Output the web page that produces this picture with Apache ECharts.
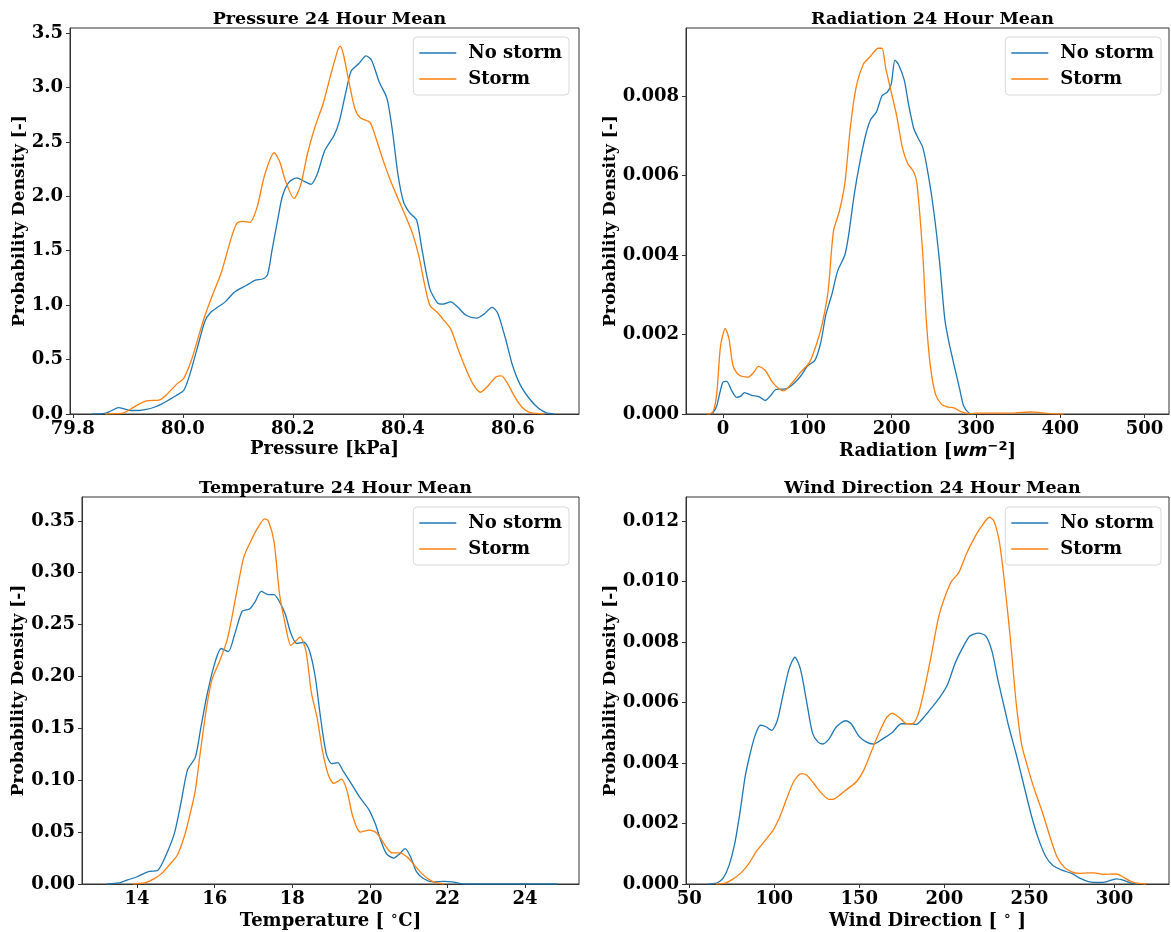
<!DOCTYPE html>
<html>
<head>
<meta charset="utf-8">
<script src="https://cdn.jsdelivr.net/npm/echarts@6/dist/echarts.min.js"></script>
<style>
  html, body { margin: 0; padding: 0; background: #fff; }
  #chart { width: 1171px; height: 932px; }
</style>
</head>
<body>
<div id="chart"></div>
<script>
// Kernel density estimates of 24-hour means, storm vs. no-storm days.
// Each series is a list of [value, density] pairs.

const seriesNames = ['No storm', 'Storm'];

// --- Pressure [kPa]
const pressureTicks = [79.8, 80.0, 80.2, 80.4, 80.6];
const pressureDensityTicks = [0, 0.5, 1.0, 1.5, 2.0, 2.5, 3.0, 3.5];
const pressureNoStorm = [
  [79.835,0],[79.858,0.005],[79.870,0.03],[79.883,0.058],[79.895,0.045],[79.906,0.032],[79.920,0.032],
  [79.934,0.042],[79.948,0.062],[79.961,0.09],[79.975,0.13],[79.988,0.17],[80.002,0.22],[80.012,0.35],
  [80.026,0.6],[80.040,0.85],[80.050,0.93],[80.063,0.98],[80.077,1.03],[80.094,1.12],[80.115,1.18],
  [80.132,1.23],[80.145,1.24],[80.154,1.28],[80.162,1.5],[80.173,1.8],[80.181,2.0],[80.193,2.13],
  [80.207,2.17],[80.220,2.14],[80.233,2.11],[80.244,2.2],[80.258,2.42],[80.275,2.56],[80.285,2.7],
  [80.296,2.95],[80.306,3.15],[80.320,3.22],[80.333,3.29],[80.343,3.25],[80.357,3.05],[80.371,2.9],
  [80.381,2.6],[80.391,2.2],[80.401,1.95],[80.412,1.85],[80.425,1.78],[80.435,1.5],[80.449,1.15],
  [80.463,1.02],[80.473,1.01],[80.487,1.03],[80.500,0.98],[80.514,0.91],[80.534,0.88],[80.548,0.92],
  [80.562,0.98],[80.572,0.93],[80.586,0.7],[80.599,0.45],[80.613,0.27],[80.630,0.14],[80.647,0.05],
  [80.661,0.01],[80.674,0]
];
const pressureStorm = [
  [79.859,0],[79.880,0.003],[79.893,0.01],[79.913,0.07],[79.934,0.12],[79.958,0.13],[79.971,0.18],
  [79.988,0.27],[80.002,0.33],[80.016,0.5],[80.029,0.72],[80.040,0.9],[80.053,1.08],[80.070,1.3],
  [80.087,1.6],[80.098,1.75],[80.108,1.77],[80.122,1.76],[80.135,1.9],[80.149,2.2],[80.166,2.4],
  [80.176,2.32],[80.186,2.15],[80.202,1.98],[80.214,2.1],[80.227,2.4],[80.241,2.65],[80.255,2.85],
  [80.268,3.1],[80.282,3.35],[80.286,3.38],[80.292,3.3],[80.302,3.05],[80.313,2.8],[80.323,2.72],
  [80.340,2.68],[80.350,2.55],[80.364,2.33],[80.377,2.15],[80.391,1.98],[80.408,1.78],[80.418,1.65],
  [80.429,1.45],[80.439,1.2],[80.449,1.0],[80.463,0.93],[80.473,0.87],[80.487,0.78],[80.500,0.6],
  [80.514,0.42],[80.528,0.27],[80.541,0.2],[80.555,0.26],[80.569,0.34],[80.579,0.35],[80.589,0.29],
  [80.603,0.16],[80.617,0.06],[80.630,0.015],[80.657,0]
];

// --- Radiation [W m^-2]
const radiationTicks = [0, 100, 200, 300, 400, 500];
const radiationDensityTicks = [0, 0.002, 0.004, 0.006, 0.008];
const radiationNoStorm = [
  [-16,0],[-12,0.00003],[-7.5,0.0002],[-3,0.0006],[0,0.0008],[4.4,0.00082],[10,0.0006],[16,0.00042],
  [21,0.00045],[25.5,0.00054],[34,0.00047],[43,0.00043],[50,0.00034],[56,0.00045],[63,0.00062],
  [74,0.00063],[83,0.00075],[92,0.00095],[100,0.0012],[109,0.00135],[116,0.0018],[122,0.0025],
  [129,0.0030],[136,0.0036],[144.5,0.0040],[149,0.0045],[155.5,0.0055],[162,0.0063],[169,0.0070],
  [175,0.0074],[182,0.0076],[188.5,0.0080],[195,0.0081],[199.5,0.0083],[204,0.0089],[208,0.0088],
  [215,0.0084],[220,0.0078],[226,0.0072],[230,0.0070],[237,0.0067],[243.6,0.0060],[250,0.0051],
  [257,0.0038],[263,0.0024],[268,0.0018],[274.4,0.0012],[281,0.0006],[285.5,0.0002],[292,0.00002],
  [298.7,0]
];
const radiationStorm = [
  [-19,0],[-12,0.00005],[-7.5,0.0005],[-3,0.0017],[2.6,0.00215],[7,0.0019],[12,0.0012],[19,0.00098],
  [30,0.00093],[36.5,0.00105],[42,0.0012],[50,0.0011],[58.6,0.0008],[67,0.00062],[72,0.00058],
  [80.6,0.00075],[92,0.00105],[102.6,0.0013],[111.5,0.0018],[118,0.0023],[124.7,0.0031],[131,0.0046],
  [138,0.0051],[144.5,0.0058],[151,0.0072],[157.7,0.0082],[166.5,0.0088],[175,0.0090],[184,0.0092],
  [188.5,0.0092],[193,0.0087],[199.5,0.0081],[206,0.0075],[212.8,0.0067],[219,0.0063],[226,0.0061],
  [230,0.0058],[237,0.0040],[241,0.0024],[246,0.0012],[252,0.0005],[259,0.00025],[265.6,0.00018],
  [274.4,0.00015],[281,0.00007],[290,0.00001],[303,0.00002],[347,0.00003],[365,0.00005],
  [373.6,0.00004],[387,0.00001],[404,0]
];

// --- Temperature [deg C]
const temperatureTicks = [14, 16, 18, 20, 22, 24];
const temperatureDensityTicks = [0, 0.05, 0.10, 0.15, 0.20, 0.25, 0.30, 0.35];
const temperatureNoStorm = [
  [13.23,0],[13.52,0.001],[13.76,0.004],[14.0,0.007],[14.29,0.012],[14.53,0.013],[14.77,0.03],
  [14.97,0.05],[15.14,0.08],[15.30,0.11],[15.50,0.122],[15.64,0.15],[15.79,0.18],[15.98,0.21],
  [16.17,0.227],[16.35,0.224],[16.51,0.24],[16.71,0.263],[16.90,0.265],[17.04,0.272],[17.20,0.282],
  [17.38,0.279],[17.53,0.279],[17.67,0.272],[17.82,0.26],[17.96,0.242],[18.11,0.232],[18.30,0.233],
  [18.44,0.225],[18.59,0.2],[18.73,0.16],[18.88,0.125],[19.02,0.116],[19.17,0.117],[19.31,0.109],
  [19.50,0.098],[19.75,0.083],[19.97,0.072],[20.14,0.058],[20.28,0.042],[20.43,0.029],[20.62,0.025],
  [20.76,0.029],[20.91,0.034],[21.05,0.026],[21.20,0.012],[21.39,0.005],[21.63,0.002],[21.92,0.0025],
  [22.12,0.002],[22.36,0.0003],[22.70,0],[24.82,0]
];
const temperatureStorm = [
  [13.90,0],[14.19,0.001],[14.43,0.005],[14.63,0.01],[14.82,0.018],[15.04,0.028],[15.21,0.045],
  [15.35,0.065],[15.50,0.09],[15.64,0.13],[15.79,0.17],[15.93,0.197],[16.13,0.215],[16.32,0.235],
  [16.46,0.26],[16.61,0.29],[16.75,0.315],[16.90,0.328],[17.09,0.342],[17.29,0.352],[17.38,0.35],
  [17.53,0.33],[17.67,0.28],[17.82,0.25],[17.96,0.23],[18.06,0.233],[18.20,0.238],[18.35,0.225],
  [18.49,0.185],[18.64,0.16],[18.78,0.128],[18.93,0.105],[19.07,0.097],[19.27,0.101],[19.41,0.09],
  [19.56,0.065],[19.75,0.05],[19.99,0.052],[20.18,0.049],[20.38,0.038],[20.57,0.03],[20.76,0.03],
  [20.96,0.026],[21.15,0.018],[21.34,0.01],[21.54,0.004],[21.73,0.001],[21.92,0]
];

// --- Wind direction [deg]
const windTicks = [50, 100, 150, 200, 250, 300];
const windDensityTicks = [0, 0.002, 0.004, 0.006, 0.008, 0.010, 0.012];
const windNoStorm = [
  [61.3,0],[66.8,0.00005],[70,0.0002],[73.3,0.0006],[76.6,0.0013],[79.9,0.0024],[82.7,0.0035],
  [85.3,0.0042],[88.6,0.0049],[91.8,0.00525],[95.1,0.0052],[98.4,0.00508],[101.7,0.0054],
  [104.9,0.0062],[108.6,0.0071],[112.1,0.0075],[115.4,0.0071],[119.1,0.0060],[122.4,0.0050],
  [125.6,0.0047],[128.5,0.00463],[132.2,0.0048],[136.5,0.0052],[142,0.0054],[145.2,0.0053],
  [149.6,0.0049],[154,0.0047],[158.3,0.00463],[163.8,0.0048],[169.2,0.005],[174.7,0.0053],
  [179,0.0053],[183.4,0.00528],[187.7,0.0055],[192.1,0.0058],[197.6,0.0062],[201.9,0.0066],
  [206.3,0.0073],[210.6,0.0078],[215,0.0082],[220,0.0083],[224.4,0.0082],[228,0.0077],[231.3,0.0068],
  [234.6,0.006],[237.9,0.0052],[242.2,0.0043],[246.6,0.0033],[251,0.0023],[255.3,0.0015],
  [259.7,0.0009],[264,0.0006],[269.5,0.00045],[274.9,0.00035],[279.3,0.0002],[284.7,0.00008],
  [291.2,0.00005],[295.6,0.00008],[301.1,0.00017],[305.5,0.00012],[309.8,0.00003],[314.2,0]
];
const windStorm = [
  [65.7,0],[71.1,0.00003],[76.6,0.0002],[81,0.0004],[85.3,0.0007],[89.7,0.0011],[94,0.0014],
  [99.5,0.0018],[103.8,0.0023],[107.1,0.0028],[111.5,0.0034],[115.8,0.00365],[119.1,0.0036],
  [123.5,0.0033],[127.8,0.0030],[132.2,0.0028],[134.3,0.0028],[137.6,0.0029],[142,0.0031],
  [148.5,0.0034],[152.9,0.0038],[157.2,0.0044],[161.6,0.0050],[166,0.0055],[169.2,0.00565],
  [173.6,0.0055],[177.9,0.0053],[181.2,0.0053],[184.5,0.0056],[187.7,0.0063],[192.1,0.0075],
  [196.5,0.0088],[199.7,0.0094],[204.1,0.0100],[208.5,0.0103],[212.8,0.0109],[217.2,0.0114],
  [221.5,0.0118],[226.5,0.01213],[229.2,0.0120],[232.4,0.0113],[235.7,0.0098],[239,0.0080],
  [242.2,0.0060],[245.5,0.0046],[248.8,0.0039],[253.1,0.0031],[257.5,0.0024],[261.9,0.0016],
  [266.2,0.0009],[270.6,0.00055],[274.9,0.0004],[279.3,0.00035],[284.7,0.00037],[288,0.00037],
  [293.4,0.00032],[301.1,0.00033],[305.5,0.00022],[309.8,0.00008],[314.2,0.00002],[318.5,0]
];

const COLORS = ['#1f77b4', '#ff7f0e'];
const FONT = "'DejaVu Serif', serif";
const INK = '#000';
const SPINE = '#333';
const FS = 18;

// one panel per grid: [left, top, width, height]
const panels = [
  { title: 'Pressure 24 Hour Mean', grid: [70, 28, 509, 386],
    x: { min: 79.795, max: 80.72, ticks: pressureTicks, digits: 1,
         name: 'Pressure [kPa]' },
    y: { max: 3.546, ticks: pressureDensityTicks, digits: 1, gap: 37 },
    data: [pressureNoStorm, pressureStorm], legendRight: 602, legendTop: 37 },
  { title: 'Radiation 24 Hour Mean', grid: [686, 28, 483, 386],
    x: { min: -43.9, max: 529, ticks: radiationTicks, digits: 0,
         name: '{a|Radiation [}{i|wm}{s|−2}{a|]}' },
    y: { max: 0.00971, ticks: radiationDensityTicks, digits: 3, gap: 61 },
    data: [radiationNoStorm, radiationStorm], legendRight: 10, legendTop: 37 },
  { title: 'Temperature 24 Hour Mean', grid: [82, 497, 497, 387],
    x: { min: 12.58, max: 25.39, ticks: temperatureTicks, digits: 0,
         name: '{a|Temperature [ }{s|∘}{a|C]}' },
    y: { max: 0.373, ticks: temperatureDensityTicks, digits: 2, gap: 49 },
    data: [temperatureNoStorm, temperatureStorm], legendRight: 602, legendTop: 507 },
  { title: 'Wind Direction 24 Hour Mean', grid: [686, 497, 483, 387],
    x: { min: 48.06, max: 332.1, ticks: windTicks, digits: 0,
         name: '{a|Wind Direction [ }{s|∘}{a| ]}' },
    y: { max: 0.0128, ticks: windDensityTicks, digits: 3, gap: 61 },
    data: [windNoStorm, windStorm], legendRight: 10, legendTop: 507 }
];

const nameRich = {
  a: { fontFamily: FONT, fontWeight: 'bold', fontSize: FS, color: INK },
  i: { fontFamily: "'DejaVu Sans', sans-serif", fontStyle: 'italic', fontWeight: 'bold', fontSize: FS, color: INK },
  s: { fontFamily: "'DejaVu Sans', sans-serif", fontWeight: 'bold', fontSize: 13, color: INK, padding: [0, 0, 9, 0] }
};

const option = {
  animation: false,
  backgroundColor: '#fff',
  title: [], grid: [], xAxis: [], yAxis: [], legend: [], series: []
};

panels.forEach((p, k) => {
  const [l, t, w, h] = p.grid;
  option.grid.push({ left: l, top: t, width: w, height: h, show: true,
    borderColor: SPINE, borderWidth: 1, backgroundColor: 'transparent', containLabel: false });
  option.title.push({ text: p.title, left: l + w / 2, top: t - 23, textAlign: 'center',
    textStyle: { fontFamily: FONT, fontWeight: 'bold', fontSize: 17.5, color: INK } });
  option.xAxis.push({
    type: 'value', gridIndex: k, min: p.x.min, max: p.x.max,
    name: p.x.name, nameLocation: 'middle', nameGap: 26,
    nameTextStyle: { fontFamily: FONT, fontWeight: 'bold', fontSize: FS, color: INK, rich: nameRich },
    axisLine: { show: true, onZero: false, lineStyle: { color: SPINE, width: 1 } },
    axisTick: { show: true, length: 4, lineStyle: { color: SPINE }, customValues: p.x.ticks },
    axisLabel: { margin: 6, fontFamily: FONT, fontWeight: 'bold', fontSize: FS, color: INK,
      customValues: p.x.ticks, formatter: v => v.toFixed(p.x.digits) },
    splitLine: { show: false }
  });
  option.yAxis.push({
    type: 'value', gridIndex: k, min: 0, max: p.y.max,
    name: 'Probability Density [-]', nameLocation: 'middle', nameGap: p.y.gap,
    nameTextStyle: { fontFamily: FONT, fontWeight: 'bold', fontSize: 17, color: INK },
    axisLine: { show: true, onZero: false, lineStyle: { color: SPINE, width: 1 } },
    axisTick: { show: true, length: 4, lineStyle: { color: SPINE }, customValues: p.y.ticks },
    axisLabel: { margin: 7, fontFamily: FONT, fontWeight: 'bold', fontSize: FS, color: INK,
      customValues: p.y.ticks, formatter: v => v.toFixed(p.y.digits) },
    splitLine: { show: false }
  });
  p.data.forEach((d, j) => {
    option.series.push({
      name: seriesNames[j], type: 'line', xAxisIndex: k, yAxisIndex: k,
      data: d, smooth: 0.25, symbol: 'none', showSymbol: false, clip: true,
      color: COLORS[j], lineStyle: { color: COLORS[j], width: 1.3 }
    });
  });
  option.legend.push({
    data: seriesNames, orient: 'vertical', right: p.legendRight, top: p.legendTop,
    icon: 'rect', itemWidth: 37, itemHeight: 1.5, itemGap: 8,
    padding: [7, 7, 7, 6], backgroundColor: 'rgba(255,255,255,0.8)',
    borderColor: '#d9d9d9', borderWidth: 1, borderRadius: 4,
    textStyle: { fontFamily: FONT, fontWeight: 'bold', fontSize: FS, color: INK, padding: [0, 0, 0, 7] },
    selectedMode: false
  });
});

const chart = echarts.init(document.getElementById('chart'), null, { renderer: 'canvas' });
chart.setOption(option);
</script>
</body>
</html>
